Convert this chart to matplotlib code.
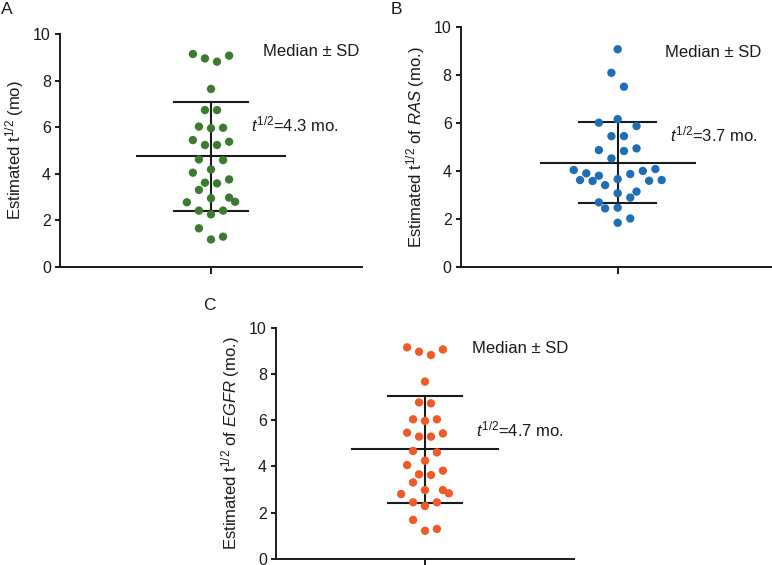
import matplotlib
matplotlib.use("Agg")
import matplotlib.pyplot as plt
import numpy as np

plt.rcParams['font.family'] = ['Liberation Sans', 'DejaVu Sans']
plt.rcParams['mathtext.fontset'] = 'custom'
plt.rcParams['mathtext.rm'] = 'Liberation Sans'
plt.rcParams['mathtext.it'] = 'Liberation Sans:italic'

# values (months), with swarm slot of each dot
a_vals = [9.14, 8.95, 8.81, 9.07, 7.64, 6.73, 6.73, 6.02, 5.95, 5.97, 5.44, 5.23,
          5.23, 5.37, 4.61, 4.58, 4.18, 4.04, 3.61, 3.58, 3.75, 3.30, 2.77, 2.94,
          2.97, 2.79, 2.41, 2.41, 2.25, 1.65, 1.17, 1.29]
a_slot = [-3, -1, 1, 3, 0, -1, 1, -2, 0, 2, -3, -1, 1, 3, -2, 2, 0, -3, -1, 1, 3,
          -2, -4, 0, 3, 4, -2, 2, 0, -2, 0, 2]
a_stats = [4.74, 2.39, 7.06]   # median, lower, upper

b_vals = [9.06, 8.08, 7.50, 6.00, 6.15, 5.86, 5.44, 5.44, 4.86, 4.82, 4.93, 4.51,
          4.03, 3.89, 3.61, 3.57, 3.79, 3.40, 3.65, 3.86, 3.99, 4.07, 3.58, 3.61,
          3.06, 3.13, 2.88, 2.68, 2.43, 2.46, 2.01, 1.83]
b_slot = [0, -1, 1, -3, 0, 3, -1, 1, -3, 1, 3, -1, -7, -5, -6, -4, -3, -2, 0, 2,
          4, 6, 5, 7, 0, 3, 2, -3, -2, 0, 2, 0]
b_stats = [4.31, 2.67, 6.03]

c_vals = [9.15, 8.96, 8.82, 9.06, 7.67, 6.77, 6.73, 6.04, 5.97, 6.04, 5.46, 5.29,
          5.29, 5.43, 4.67, 4.61, 4.25, 4.06, 3.66, 3.63, 3.82, 3.31, 2.81, 2.98,
          2.98, 2.84, 2.45, 2.45, 2.29, 1.69, 1.22, 1.30]
c_slot = a_slot
c_stats = [4.76, 2.44, 7.05]

W, H = 772, 565
fig = plt.figure(figsize=(W / 100, H / 100), dpi=100)


def panel(box, vals, slot, stats, color, ylabel, letter, letter_xy, med_xy, t_xy, t_text):
    l, r, t, b = box
    ax = fig.add_axes([l / W, 1 - b / H, (r - l) / W, (b - t) / H])
    x = np.array(slot) * 0.04
    ax.scatter(x, vals, s=36, color=color, edgecolors='none', zorder=3)
    med, lo, hi = stats
    ax.plot([-0.49, 0.49], [med, med], color='#1a1a1a', lw=1.5, zorder=2)
    ax.plot([-0.245, 0.245], [lo, lo], color='#1a1a1a', lw=1.5, zorder=2)
    ax.plot([-0.245, 0.245], [hi, hi], color='#1a1a1a', lw=1.5, zorder=2)
    ax.plot([0, 0], [lo, hi], color='#1a1a1a', lw=1.5, zorder=2)
    ax.set_xlim(-1, 1)
    ax.set_ylim(0, 10)
    ax.set_yticks([0, 2, 4, 6, 8, 10])
    ax.set_xticks([0])
    ax.set_xticklabels([''])
    for s in ['top', 'right']:
        ax.spines[s].set_visible(False)
    for s in ['left', 'bottom']:
        ax.spines[s].set_linewidth(1.4)
        ax.spines[s].set_color('#1a1a1a')
    ax.tick_params(axis='y', length=3.5, width=1.4, labelsize=11.5, pad=3, colors='#1a1a1a')
    ax.tick_params(axis='x', length=5, width=1.4, colors='#1a1a1a')
    ax.set_ylabel(ylabel, fontsize=12, labelpad=5, color='#1a1a1a')
    ax.text(med_xy[0], med_xy[1], 'Median ± SD', fontsize=12, color='#1a1a1a')
    ax.text(t_xy[0], t_xy[1], t_text, fontsize=12, color='#1a1a1a')
    fig.text(letter_xy[0] / W, 1 - letter_xy[1] / H, letter, fontsize=12.5,
             va='top', ha='left', color='#1a1a1a')
    return ax


panel((60, 362, 34, 266.7), a_vals, a_slot, a_stats, '#3d7a31',
      r'Estimated t$^{1/2}$ (mo)', 'A', (1, 2), (0.344, 9.05), (0.263, 5.83),
      r'$\mathit{t}^{1/2}$=4.3 mo.')
panel((460.7, 774.7, 26.7, 266.7), b_vals, b_slot, b_stats, '#1f6db3',
      r'Estimated t$^{1/2}$ of $\mathit{RAS}$ (mo.)', 'B', (391, 2), (0.30, 8.75),
      (0.333, 5.21), r'$\mathit{t}^{1/2}$=3.7 mo.')
panel((276, 574, 327.7, 559), c_vals, c_slot, c_stats, '#f05a28',
      r'Estimated t$^{1/2}$ of $\mathit{EGFR}$ (mo.)', 'C', (203, 298), (0.313, 8.92),
      (0.342, 5.29), r'$\mathit{t}^{1/2}$=4.7 mo.')

fig.savefig('out.png', dpi=100)
